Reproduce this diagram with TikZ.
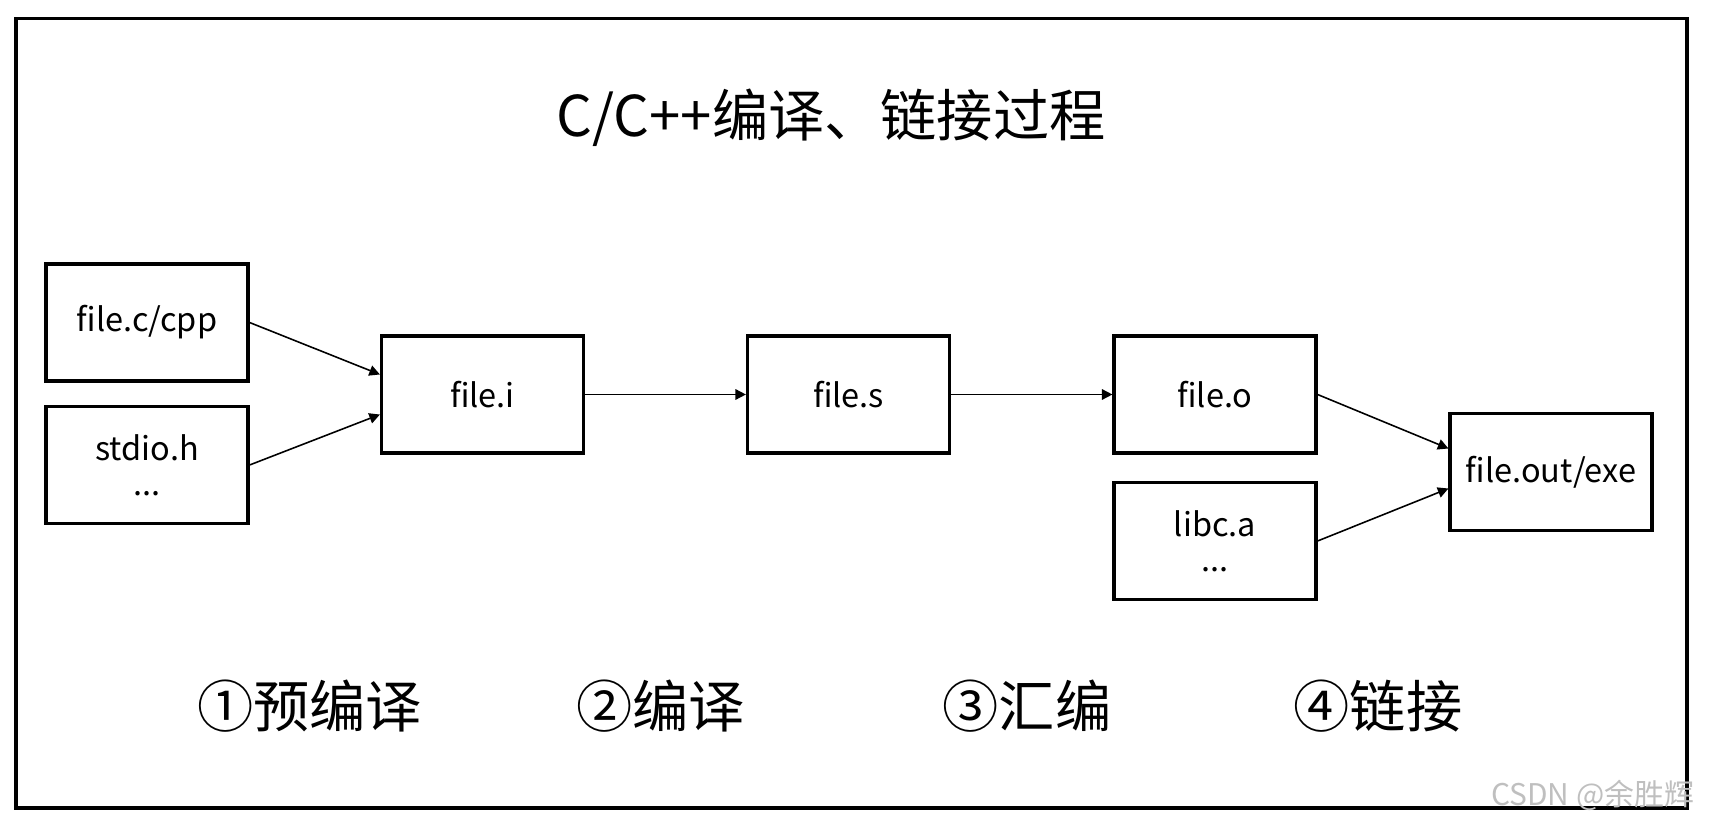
\documentclass[tikz,border=0pt]{standalone}
\usepackage{fontspec}
\setmainfont{Noto Sans CJK SC}
\usetikzlibrary{arrows.meta}
\begin{document}
\begin{tikzpicture}[
filebox/.style={draw,rectangle,line width=1.8pt,minimum width=4.04cm,minimum height=2.34cm,align=center,font=\fontsize{18.5}{20}\selectfont},
stage/.style={font=\fontsize{32}{36}\selectfont},
flow/.style={-{Triangle[length=6pt,width=6pt]},line width=0.9pt}]
\useasboundingbox (0,0) rectangle (34.18,16.5);
\draw[line width=1.8pt] (0.32,0.34) rectangle (33.74,16.13);
\draw (16.62,14.14) node[stage] (title) {C/C++编译、链接过程};
\draw (2.94,10.05) node[filebox] (src) {file.c/cpp};
\draw (2.94,7.2) node[filebox] (hdr) {stdio.h\\...};
\draw (9.65,8.61) node[filebox] (pre) {file.i};
\draw (16.97,8.61) node[filebox] (asm) {file.s};
\draw (24.3,8.61) node[filebox] (obj) {file.o};
\draw (24.3,5.68) node[filebox] (lib) {libc.a\\...};
\draw (31.02,7.06) node[filebox] (exe) {file.out/exe};
\draw[flow] (src.east) -- ([yshift=0.4cm]pre.west);
\draw[flow] (hdr.east) -- ([yshift=-0.4cm]pre.west);
\draw[flow] (pre) -- (asm);
\draw[flow] (asm) -- (obj);
\draw[flow] (obj.east) -- ([yshift=0.47cm]exe.west);
\draw[flow] (lib.east) -- ([yshift=-0.33cm]exe.west);
%\draw (9.65,11) node {phases};
\draw (6.19,2.38) node[stage] (s1) {①预编译};
\draw (13.21,2.38) node[stage] (s2) {②编译};
\draw (20.54,2.38) node[stage] (s3) {③汇编};
\draw (27.56,2.38) node[stage] (s4) {④链接};
\draw (31.85,0.6) node[font=\fontsize{17}{20}\selectfont,color=black!25] (mark) {CSDN @余胜辉};
\end{tikzpicture}
\end{document}
